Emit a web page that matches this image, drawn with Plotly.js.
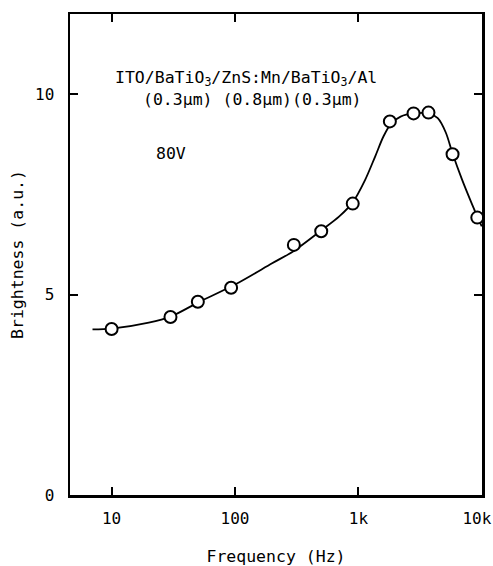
<!DOCTYPE html>
<html>
<head>
<meta charset="utf-8">
<script src="https://cdn.plot.ly/plotly-3.0.1.min.js"></script>
<style>html,body{margin:0;padding:0;background:#fff;}#chart{width:493px;height:566px;}</style>
</head>
<body>
<div id="chart"></div>
<script>
// Measured points
const freqHz = [10, 30, 50, 93, 300, 500, 900, 1800, 2800, 3700, 5800, 9200];
const brightness = [4.14, 4.44, 4.82, 5.17, 6.24, 6.58, 7.27, 9.32, 9.52, 9.54, 8.50, 6.92];
// Drawn smooth curve
const curveFreqHz = [7, 10, 20, 30, 50, 100, 200, 300, 500, 700, 900, 1130, 1370, 1600, 1850, 2200, 2800, 3700, 4400, 5100, 5800, 6900, 8300, 9500, 10000];
const curveBrightness = [4.13, 4.15, 4.3, 4.45, 4.8, 5.25, 5.78, 6.09, 6.6, 6.95, 7.3, 7.85, 8.45, 8.95, 9.27, 9.44, 9.52, 9.52, 9.4, 9.05, 8.52, 7.88, 7.27, 6.85, 6.7];
// Tick labels
const xTickVals = [10, 100, 1000, 10000];
const xTickText = ['10', '100', '1k', '10k\u00a0'];
const yTickVals = [0, 5, 10];
const yTickText = ['0', '5', '10'];

const mono = 'DejaVu Sans Mono, monospace';

const traces = [
  {
    x: curveFreqHz, y: curveBrightness, type: 'scatter', mode: 'lines',
    line: {color: '#000', width: 1.8, shape: 'spline', smoothing: 0.9},
    hoverinfo: 'skip', showlegend: false
  },
  {
    x: freqHz, y: brightness, type: 'scatter', mode: 'markers',
    marker: {symbol: 'circle', size: 12, color: '#fff', line: {color: '#000', width: 2}},
    cliponaxis: true, showlegend: false
  }
];

const axisCommon = {
  showline: true, linecolor: '#000', linewidth: 2.5, mirror: 'ticks',
  ticks: 'inside', ticklen: 8, tickwidth: 2, tickcolor: '#000',
  showgrid: false, zeroline: false,
  ticklabeloverflow: 'allow',
  tickfont: {family: mono, size: 16, color: '#000'}
};

const layout = {
  width: 493, height: 566,
  margin: {l: 70, r: 11, t: 14, b: 71},
  paper_bgcolor: '#fff', plot_bgcolor: '#fff',
  font: {family: mono, color: '#000'},
  xaxis: Object.assign({}, axisCommon, {
    type: 'log', range: [Math.log10(4.6), 4.002],
    tickvals: xTickVals, ticktext: xTickText,
    ticklabelstandoff: 7,
    title: {text: 'Frequency (Hz)', font: {family: mono, size: 16.5, color: '#000'}, standoff: 24}
  }),
  yaxis: Object.assign({}, axisCommon, {
    range: [0, 12],
    tickvals: yTickVals, ticktext: yTickText,
    ticklabelstandoff: 10,
    title: {text: 'Brightness (a.u.)', font: {family: mono, size: 16.5, color: '#000'}, standoff: 8}
  }),
  annotations: [
    {xref: 'paper', yref: 'paper', x: 0.428, y: 0.866, xanchor: 'center', yanchor: 'middle', showarrow: false,
     text: 'ITO/BaTiO<sub>3</sub>/ZnS:Mn/BaTiO<sub>3</sub>/Al', font: {family: mono, size: 16.5, color: '#000'}},
    {xref: 'paper', yref: 'paper', x: 0.442, y: 0.823, xanchor: 'center', yanchor: 'middle', showarrow: false,
     text: '(0.3μm) (0.8μm)(0.3μm)', font: {family: mono, size: 16.5, color: '#000'}},
    {xref: 'paper', yref: 'paper', x: 0.246, y: 0.711, xanchor: 'center', yanchor: 'middle', showarrow: false,
     text: '80V', font: {family: mono, size: 16.5, color: '#000'}}
  ]
};

Plotly.newPlot('chart', traces, layout, {displayModeBar: false, staticPlot: true});
</script>
</body>
</html>
